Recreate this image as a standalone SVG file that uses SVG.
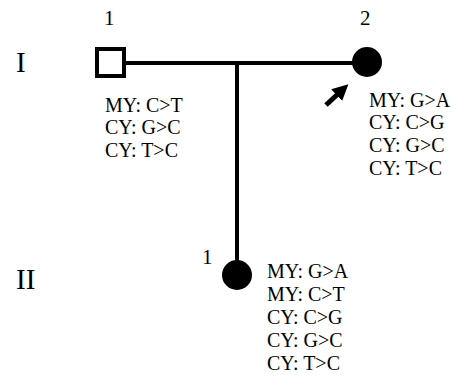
<svg xmlns="http://www.w3.org/2000/svg" width="462" height="379" viewBox="0 0 462 379">
<style>
text{font-family:"Liberation Serif","Times New Roman",serif;fill:#000}
.lab{font-size:20px}
.num{font-size:21px}
.gen{font-size:29px}
.ln{stroke:#000;stroke-width:4;fill:none}
</style>
<defs>
<marker id="ah" viewBox="0 0 10 10" refX="2" refY="5" markerWidth="16" markerHeight="16" markerUnits="userSpaceOnUse" orient="auto">
<path d="M0,0 L10,5 L0,10 z" fill="#000"/>
</marker>
</defs>
<rect width="462" height="379" fill="#fff"/>
<text class="gen" x="16" y="72">I</text>
<text class="gen" x="16" y="289">II</text>
<g id="connectors">
<line class="ln" x1="124" y1="63" x2="355" y2="63"/>
<line class="ln" x1="237" y1="63" x2="237" y2="265"/>
</g>
<g id="I-1">
<text class="num" x="104" y="25">1</text>
<rect x="97" y="49" width="27" height="27" fill="#fff" stroke="#000" stroke-width="4"/>
<text class="lab" x="105" y="112">MY: C&gt;T</text>
<text class="lab" x="105" y="134">CY: G&gt;C</text>
<text class="lab" x="105" y="157">CY: T&gt;C</text>
</g>
<g id="I-2">
<text class="num" x="360" y="25">2</text>
<circle cx="367" cy="62" r="15" fill="#000"/>
<path d="M326,105 L339,93" stroke="#000" stroke-width="5" marker-end="url(#ah)"/>
<text class="lab" x="369" y="107">MY: G&gt;A</text>
<text class="lab" x="369" y="129">CY: C&gt;G</text>
<text class="lab" x="369" y="152">CY: G&gt;C</text>
<text class="lab" x="369" y="175">CY: T&gt;C</text>
</g>
<g id="II-1">
<text class="num" x="202" y="264">1</text>
<circle cx="237" cy="275" r="15" fill="#000"/>
<text class="lab" x="267" y="278">MY: G&gt;A</text>
<text class="lab" x="267" y="301">MY: C&gt;T</text>
<text class="lab" x="267" y="324">CY: C&gt;G</text>
<text class="lab" x="267" y="347">CY: G&gt;C</text>
<text class="lab" x="267" y="370">CY: T&gt;C</text>
</g>
</svg>
